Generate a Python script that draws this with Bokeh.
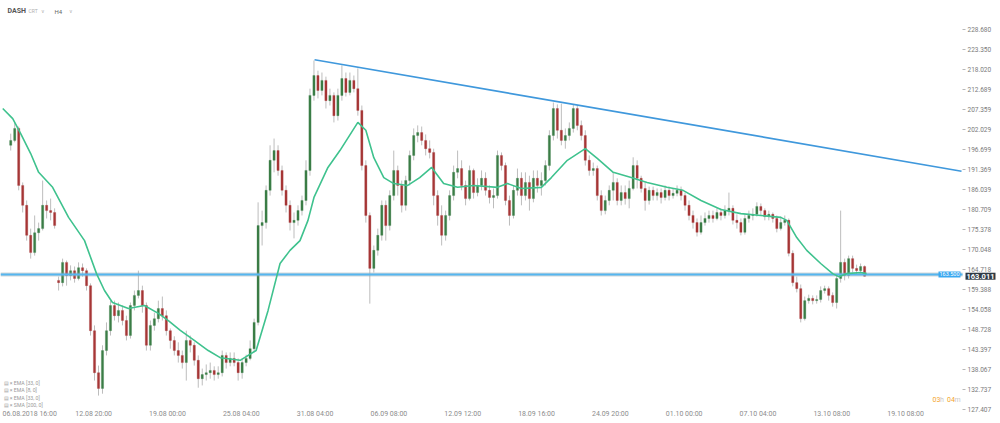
from bokeh.plotting import figure
from bokeh.models import (Range1d, FixedTicker, Label, Span, ColumnDataSource,
                          CustomJSTickFormatter)
from bokeh.embed import file_html
from bokeh.resources import INLINE

# ---------------- data (DASH, 8h candles, x in 4h-bar units) ----------------
first_bar = -5          # bar index of first candle (bar 0 = 06.08.2018 16:00)
bars_per_candle = 2

opens = [197.9, 199.2, 202.4, 187.2, 181.9, 173.9, 169.3, 174.6, 175.7, 181.9,
         180.5, 180.0, 161.9, 161.3, 166.7, 163.2, 164.5, 162.4, 165.3, 164.5,
         160.5, 148.5, 137.3, 133.1, 143.2, 148.5, 155.2, 152.5, 153.9, 151.2,
         147.2, 155.2, 157.9, 159.2, 155.2, 144.6, 149.9, 151.7, 154.4, 152.5,
         148.5, 145.9, 143.2, 141.9, 140.0, 145.9, 144.6, 140.6, 135.7, 136.8,
         137.3, 137.9, 136.8, 137.3, 141.9, 140.0, 141.1, 140.0, 137.3, 140.0,
         141.1, 143.7, 150.7, 176.5, 177.3, 185.9, 193.9, 196.5, 191.2, 185.9,
         181.9, 177.3, 177.9, 180.5, 183.2, 191.2, 211.2, 216.5, 212.5, 215.2,
         209.8, 211.2, 205.8, 211.2, 215.7, 212.0, 215.2, 213.0, 207.2, 192.5,
         179.2, 165.1, 169.9, 173.9, 181.9, 176.5, 184.5, 191.2, 187.2, 181.9,
         188.5, 195.2, 200.5, 201.3, 199.2, 197.0, 196.0, 184.5, 179.2, 173.9,
         179.2, 184.5, 190.7, 191.7, 187.2, 183.7, 191.2, 185.3, 187.2, 189.1,
         185.9, 184.0, 184.5, 195.2, 192.5, 183.2, 179.2, 185.9, 189.1, 184.5,
         188.0, 183.7, 189.1, 187.2, 188.5, 192.5, 200.5, 207.7, 201.9, 199.2,
         200.5, 202.4, 207.7, 203.2, 200.5, 193.9, 191.2, 191.7, 184.5, 180.5,
         183.2, 185.9, 188.0, 183.2, 185.3, 183.7, 186.4, 192.5, 189.1, 186.4,
         183.2, 185.9, 184.5, 185.3, 184.0, 185.9, 184.5, 185.1, 185.9, 184.5,
         181.9, 179.2, 177.3, 174.7, 177.3, 178.4, 179.2, 178.4, 180.0, 179.2,
         180.5, 181.1, 177.9, 177.3, 174.7, 178.4, 179.2, 179.5, 181.6, 180.5,
         178.9, 179.5, 178.4, 175.7, 177.3, 177.9, 169.1, 161.3, 159.7, 151.7,
         156.5, 157.1, 156.5, 156.8, 159.2, 159.7, 157.9, 156.0, 162.4, 166.7,
         163.2, 167.7, 165.1, 164.5, 165.6]

closes = [199.2, 202.4, 187.2, 181.9, 173.9, 169.3, 174.6, 175.7, 181.9, 180.5,
          180.0, 176.5, 161.3, 166.7, 163.2, 164.5, 162.4, 165.3, 164.5, 160.5,
          148.5, 137.3, 133.1, 143.2, 148.5, 155.2, 152.5, 153.9, 151.2, 147.2,
          155.2, 157.9, 159.2, 155.2, 144.6, 149.9, 151.7, 154.4, 152.5, 148.5,
          145.9, 143.2, 141.9, 140.0, 145.9, 144.6, 140.6, 135.7, 136.8, 137.3,
          137.9, 136.8, 137.3, 141.9, 140.0, 141.1, 140.0, 137.3, 140.0, 141.1,
          143.7, 150.7, 176.5, 177.3, 185.9, 193.9, 196.5, 191.2, 185.9, 181.9,
          177.3, 177.9, 180.5, 183.2, 191.2, 211.2, 216.5, 212.5, 215.2, 209.8,
          211.2, 205.8, 211.2, 215.7, 212.0, 215.2, 213.0, 207.2, 192.5, 179.2,
          165.1, 169.9, 173.9, 181.9, 176.5, 184.5, 191.2, 187.2, 181.9, 188.5,
          195.2, 200.5, 201.3, 199.2, 197.0, 196.0, 184.5, 179.2, 173.9, 179.2,
          184.5, 190.7, 191.7, 187.2, 183.7, 191.2, 185.3, 187.2, 189.1, 185.9,
          184.0, 184.5, 195.2, 192.5, 183.2, 179.2, 185.9, 189.1, 184.5, 188.0,
          183.7, 189.1, 187.2, 188.5, 192.5, 200.5, 207.7, 201.9, 199.2, 200.5,
          202.4, 207.7, 203.2, 200.5, 193.9, 191.2, 191.7, 184.5, 180.5, 183.2,
          185.9, 188.0, 183.2, 185.3, 183.7, 186.4, 192.5, 189.1, 186.4, 183.2,
          185.9, 184.5, 185.3, 184.0, 185.9, 184.5, 185.1, 185.9, 184.5, 181.9,
          179.2, 177.3, 174.7, 177.3, 178.4, 179.2, 178.4, 180.0, 179.2, 180.5,
          181.1, 177.9, 177.3, 174.7, 178.4, 179.2, 179.5, 181.6, 180.5, 178.9,
          179.5, 178.4, 175.7, 177.3, 177.9, 169.1, 161.3, 159.7, 151.7, 156.5,
          157.1, 156.5, 156.8, 159.2, 159.7, 157.9, 156.0, 162.4, 166.7, 163.2,
          167.7, 165.1, 164.5, 165.6, 163.0]

highs = [201.0, 204.0, 202.9, 188.0, 183.2, 175.7, 179.2, 177.3, 188.5, 183.2,
         183.7, 181.1, 162.9, 167.7, 167.2, 165.9, 165.6, 166.7, 166.4, 165.1,
         161.1, 149.9, 139.2, 144.6, 150.7, 156.5, 156.5, 156.0, 155.2, 152.5,
         156.0, 159.2, 164.5, 160.5, 156.0, 151.2, 153.3, 156.5, 157.6, 153.9,
         149.1, 147.0, 145.4, 143.2, 148.5, 147.2, 145.4, 141.9, 138.4, 139.5,
         140.0, 139.0, 139.0, 143.2, 142.7, 142.7, 142.7, 141.1, 141.1, 142.1,
         145.9, 151.7, 182.7, 180.5, 187.2, 197.9, 199.7, 197.9, 192.5, 187.2,
         183.2, 180.0, 181.9, 184.5, 193.9, 213.0, 220.5, 217.8, 217.3, 216.2,
         213.0, 212.0, 213.0, 219.2, 217.3, 217.3, 216.5, 218.4, 208.5, 193.9,
         180.0, 171.2, 175.7, 183.2, 183.2, 185.9, 196.5, 192.5, 188.5, 189.8,
         196.5, 202.4, 203.2, 202.9, 200.8, 199.2, 197.0, 185.9, 181.9, 180.5,
         185.9, 192.5, 196.5, 193.9, 188.5, 192.5, 191.7, 189.1, 191.2, 190.7,
         187.2, 186.4, 196.5, 196.0, 193.3, 184.5, 187.2, 191.7, 190.7, 190.7,
         189.8, 191.2, 191.2, 190.7, 193.9, 201.9, 209.3, 208.8, 209.0, 202.4,
         204.0, 208.8, 208.5, 204.5, 201.9, 195.2, 193.3, 192.5, 185.9, 184.5,
         187.2, 190.7, 189.1, 187.2, 187.2, 188.5, 194.7, 193.9, 189.8, 188.0,
         186.9, 186.9, 186.4, 186.4, 187.2, 186.9, 186.4, 187.2, 186.9, 185.3,
         183.2, 180.5, 178.4, 179.2, 180.0, 180.5, 180.5, 181.1, 181.1, 181.9,
         185.3, 181.9, 179.5, 178.4, 179.5, 180.5, 181.1, 182.7, 182.4, 181.1,
         180.5, 180.0, 179.2, 178.9, 179.2, 178.4, 169.9, 162.9, 160.8, 157.6,
         158.1, 157.9, 157.9, 160.3, 160.5, 160.3, 158.7, 163.2, 180.5, 167.7,
         168.5, 168.5, 166.1, 166.4, 165.9]

lows = [196.5, 198.7, 185.9, 180.0, 172.5, 167.7, 168.5, 172.5, 175.2, 178.4,
        177.9, 175.7, 159.2, 160.3, 160.5, 161.9, 161.3, 161.9, 162.9, 159.2,
        147.2, 135.2, 131.2, 131.7, 141.9, 147.2, 151.2, 150.7, 149.9, 145.9,
        146.4, 153.9, 157.1, 153.3, 143.2, 143.2, 148.5, 150.7, 151.2, 147.2,
        143.7, 141.9, 140.0, 138.4, 135.2, 142.7, 139.2, 133.3, 133.9, 135.2,
        135.7, 135.2, 135.7, 136.3, 138.4, 139.0, 139.0, 135.2, 135.7, 139.0,
        140.6, 142.7, 149.9, 171.2, 175.7, 184.5, 190.7, 189.8, 184.5, 180.0,
        175.2, 173.1, 176.5, 179.2, 181.9, 189.8, 209.8, 210.4, 211.2, 207.7,
        208.5, 204.0, 204.5, 209.8, 210.9, 211.2, 212.0, 205.8, 191.2, 177.3,
        155.7, 164.0, 168.5, 172.5, 172.5, 175.2, 183.2, 184.5, 180.0, 180.5,
        187.2, 193.9, 198.7, 197.9, 195.2, 194.4, 181.9, 176.5, 171.2, 172.5,
        177.9, 183.2, 189.1, 185.9, 181.9, 183.2, 183.7, 184.3, 185.9, 184.5,
        182.4, 181.1, 183.7, 191.2, 181.9, 176.5, 178.4, 184.5, 181.9, 183.2,
        180.5, 182.7, 185.3, 184.5, 187.2, 191.2, 199.2, 199.7, 197.9, 197.0,
        199.2, 201.3, 201.9, 199.2, 192.5, 189.8, 189.8, 183.2, 179.2, 179.5,
        181.9, 183.2, 181.9, 181.9, 182.1, 181.1, 185.9, 186.4, 185.3, 180.5,
        182.1, 183.2, 183.2, 182.4, 183.2, 183.2, 183.7, 184.3, 183.2, 180.5,
        177.9, 175.7, 173.6, 174.1, 176.5, 177.3, 177.3, 177.9, 177.9, 178.4,
        179.2, 176.8, 175.7, 173.9, 174.1, 177.3, 177.9, 178.9, 179.2, 177.9,
        177.9, 177.3, 174.7, 175.2, 176.5, 168.3, 160.3, 158.7, 150.7, 151.2,
        155.7, 155.5, 155.7, 156.0, 158.4, 156.5, 154.9, 154.4, 161.3, 161.9,
        162.4, 164.0, 163.5, 164.0, 162.9]

# EMA indicator line (bar index, price)
ema_bar = [-9, -4, 0, 5, 9, 16, 24, 32, 38, 42, 46, 54, 62, 69, 74, 80, 87, 94,
           100, 110, 118, 124, 130, 135, 140, 144, 147, 154, 160, 169, 173, 177,
           182, 187, 194, 200, 206, 212, 219, 227, 239, 244, 251, 261, 266, 274,
           283, 289, 297, 306, 314, 324, 332, 341, 351, 361, 371, 381, 384, 389,
           394, 401, 407, 410, 414, 421, 424]
ema_val = [207.7, 205.0, 201.0, 195.7, 190.7, 186.7, 178.7, 172.5, 163.7, 159.2,
           156.0, 154.4, 155.2, 153.1, 151.2, 148.6, 145.9, 143.2, 141.3, 140.6,
           143.2, 153.9, 166.4, 169.9, 172.5, 177.9, 184.0, 192.0, 196.5, 204.0,
           201.9, 194.6, 189.3, 187.7, 187.2, 189.3, 192.0, 187.7, 186.7, 187.2,
           186.7, 187.7, 186.4, 186.7, 189.3, 193.9, 197.0, 194.4, 190.7, 189.3,
           188.0, 186.7, 185.9, 183.2, 180.8, 179.7, 179.2, 178.7, 177.9, 173.3,
           169.9, 166.4, 163.7, 162.9, 163.7, 164.0, 163.7]

# drawn trendline and support level
trend_bar = [147.3, 471.6]
trend_val = [220.7, 191.0]
support_level = 163.47
support_text = "163.500"
last_price = 163.011

# axes
x_tick_bars = [37, 74, 111, 148, 185, 222, 259, 296, 333, 370, 407, 444]
x_tick_labels = ["12.08  20:00", "19.08  00:00", "25.08  04:00", "31.08  04:00",
                 "06.09  08:00", "12.09  12:00", "18.09  16:00", "24.09  20:00",
                 "01.10  00:00", "07.10  04:00", "13.10  08:00", "19.10  08:00"]
first_x_label = "06.08.2018  16:00"
price_ticks = [228.680, 223.350, 218.020, 212.689, 207.359, 202.029, 196.699,
               191.369, 186.039, 180.709, 175.378, 170.048, 164.718, 159.388,
               154.058, 148.728, 143.397, 138.067, 132.737, 127.407]
legend_rows = ["EMA [33, 0]", "EMA [8, 0]", "EMA [33, 0]", "SMA [200, 0]"]

# ---------------- layout helpers (page pixel -> data, for annotations) ----------------
X0_PX, PX_PER_BAR = 20.2, 1.995
V0, V_PER_PX = 236.49, 0.2665


def bx(px):
    return (px - X0_PX) / PX_PER_BAR


def vy(py):
    return V0 - V_PER_PX * py


FONT = "Roboto"

p = figure(width=1000, height=423, output_backend="svg", toolbar_location=None,
           x_range=Range1d(bx(0), bx(1000)), y_range=Range1d(vy(423), vy(0)),
           y_axis_location="right", min_border=0, min_border_left=0,
           min_border_top=0, min_border_right=0, min_border_bottom=0)
p.background_fill_color = "white"
p.border_fill_color = "white"
p.outline_line_color = None
p.grid.visible = False

# x axis (drawn at a fixed place inside the canvas)
xa = p.xaxis[0]
xa.fixed_location = vy(404)
xa.ticker = FixedTicker(ticks=x_tick_bars)
xa.major_label_overrides = {b: t for b, t in zip(x_tick_bars, x_tick_labels)}
xa.axis_line_color = None
xa.major_tick_line_color = None
xa.minor_tick_line_color = None
xa.major_tick_out = 0
xa.major_tick_in = 0
xa.major_label_standoff = 5
xa.major_label_text_font = FONT
xa.major_label_text_font_size = "7px"
xa.major_label_text_color = "#8c8c8c"

# y axis (right side price scale)
ya = p.yaxis[0]
ya.fixed_location = bx(962)
ya.ticker = FixedTicker(ticks=price_ticks)
ya.formatter = CustomJSTickFormatter(code="return tick.toFixed(3);")
ya.axis_line_color = None
ya.major_tick_line_color = "#b8b8b8"
ya.minor_tick_line_color = None
ya.major_tick_out = 3
ya.major_tick_in = 0
ya.major_label_standoff = 2
ya.major_label_text_font = FONT
ya.major_label_text_font_size = "6.5px"
ya.major_label_text_color = "#7a7a7a"

# candles
n = len(closes)
xs = [first_bar + bars_per_candle * i for i in range(n)]
up = "#3b7d46"
down = "#a63636"
colors = [up if c >= o else down for o, c in zip(opens, closes)]
src = ColumnDataSource(dict(x=xs, open=opens, close=closes, high=highs, low=lows,
                            color=colors))
p.segment(x0="x", y0="low", x1="x", y1="high", source=src,
          line_color="#bdbdbd", line_width=1)
p.vbar(x="x", width=1.1, top="open", bottom="close", source=src,
       fill_color="color", line_color="color", line_width=0.3)

# support level (stops at the price scale)
p.line([bx(0), bx(962)], [support_level, support_level],
       line_color="#9aa4ab", line_width=4, line_alpha=0.45)
p.line([bx(0), bx(962)], [support_level, support_level],
       line_color="#55b6f0", line_width=2.2)

# trendline
p.line(trend_bar, trend_val, line_color="#3f98dc", line_width=1.6)

# EMA
p.line(ema_bar, ema_val, line_color="#3fc28e", line_width=1.6)


# ---------------- texts ----------------
def lab(px, py, text, size, color, align="left", bold=False, **kw):
    l = Label(x=bx(px), y=vy(py), text=text, text_font=FONT,
              text_font_size=size, text_color=color, text_align=align,
              text_baseline="middle", text_font_style="bold" if bold else "normal",
              **kw)
    p.add_layout(l)
    return l


lab(7, 10.5, "DASH", "7px", "#555555", bold=True)
lab(28, 10.5, "CRT", "5px", "#b0b0b0")
lab(40, 10.5, "\u2228", "5px", "#b0b0b0")
lab(54, 10.5, "H4", "6px", "#666666")
lab(68, 10.5, "\u2228", "5px", "#b0b0b0")

for k, txt in enumerate(legend_rows):
    lab(3, 382.5 + 7.4 * k, "\u25A4 \u00D7 " + txt, "5.2px", "#9a9a9a")

lab(2, 413, first_x_label, "7px", "#8c8c8c")

lab(932, 399, "03", "7px", "#f4a62a")
lab(939.5, 399, "h", "7px", "#c8c8c8")
lab(946.5, 399, "04", "7px", "#f4a62a")
lab(954, 399, "m", "7px", "#c8c8c8")

p.add_layout(Label(x=bx(938), y=support_level, text=support_text, text_font=FONT,
                   text_font_size="5.5px", text_color="white", text_align="left",
                   text_baseline="middle", background_fill_color="#3aa8f0",
                   padding=1))
p.add_layout(Label(x=bx(965), y=last_price, text=f"{last_price:.3f}", text_font=FONT,
                   text_font_size="7.5px", text_color="white", text_align="left",
                   text_font_style="bold", text_baseline="middle",
                   background_fill_color="#2e3a44", padding=1))

open("out.html", "w").write(file_html(p, INLINE))
